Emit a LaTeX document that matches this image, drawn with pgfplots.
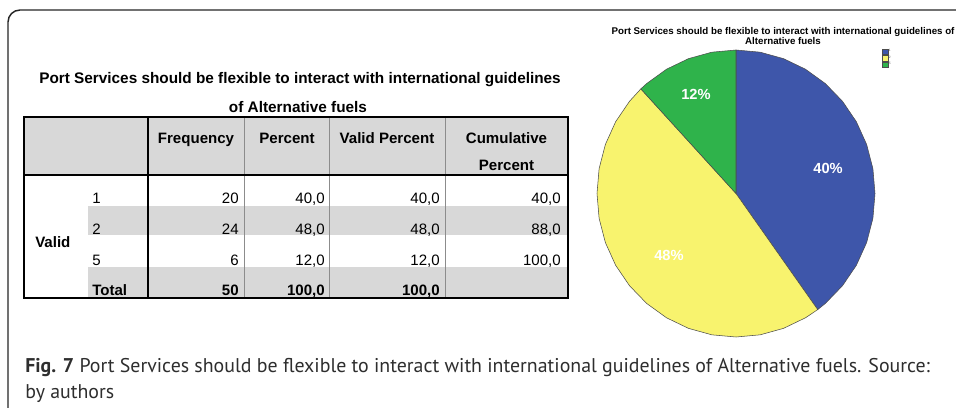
\documentclass[border=0pt]{standalone}
\usepackage{pgfplots}
\pgfplotsset{compat=1.18}
\usepackage{fontspec}
\setmainfont{Liberation Sans}
\newfontfamily\capfont{PT Sans}
\definecolor{spssblue}{HTML}{3E56AA}
\definecolor{spssyellow}{HTML}{F8F36E}
\definecolor{spssgreen}{HTML}{2FB34B}
\definecolor{hdrgray}{HTML}{D8D8D8}
\definecolor{rulegray}{HTML}{8C8C8C}
\begin{document}
\begin{tikzpicture}
\begin{scope}[x=0.75pt,y=-0.75pt]
\path[use as bounding box] (0,0) rectangle (956,407);
\fill[white] (0,0) rectangle (956,407);
% frame
\draw[line width=1.1pt, black!85, rounded corners=9pt] (8,415) -- (8,10) -- (965,10);
% table
\fill[hdrgray] (24,117) rectangle (568,175);
\fill[hdrgray] (88,206) rectangle (568,235);
\fill[hdrgray] (88,267) rectangle (568,298);
\draw[rulegray, line width=0.6pt] (244,117) -- (244,298) (329,117) -- (329,298) (445,117) -- (445,298);
\draw[black, line width=1.4pt] (24,117) rectangle (568,298);
\draw[black, line width=1.4pt] (148,117) -- (148,298) (24,175) -- (568,175);
\begin{scope}[every node/.style={inner sep=0pt, font=\fontsize{11.3}{13}\selectfont}]
\node[anchor=base, font=\fontsize{11.5}{13}\selectfont\bfseries] at (300,83.5) {Port Services should be flexible to interact with international guidelines};
\node[anchor=base, font=\fontsize{11.5}{13}\selectfont\bfseries] at (298,112) {of Alternative fuels};
\node[anchor=base, font=\fontsize{11.3}{13}\selectfont\bfseries] at (196,143) {Frequency};
\node[anchor=base, font=\fontsize{11.3}{13}\selectfont\bfseries] at (287,143) {Percent};
\node[anchor=base, font=\fontsize{11.3}{13}\selectfont\bfseries] at (387,143) {Valid Percent};
\node[anchor=base, font=\fontsize{11.3}{13}\selectfont\bfseries] at (506.5,143) {Cumulative};
\node[anchor=base, font=\fontsize{11.3}{13}\selectfont\bfseries] at (506.5,170.5) {Percent};
\node[anchor=base west, font=\fontsize{11.3}{13}\selectfont\bfseries] at (35,247) {Valid};
\node[anchor=base west] at (92,203) {1};
\node[anchor=base west] at (92,234) {2};
\node[anchor=base west] at (92,265) {5};
\node[anchor=base west, font=\fontsize{11.3}{13}\selectfont\bfseries] at (92,295) {Total};
% Frequency
\node[anchor=base east] at (239,203) {20};
\node[anchor=base east] at (239,234) {24};
\node[anchor=base east] at (239,265) {6};
\node[anchor=base east, font=\fontsize{11.3}{13}\selectfont\bfseries] at (239,295) {50};
% Percent
\node[anchor=base east] at (325,203) {40,0};
\node[anchor=base east] at (325,234) {48,0};
\node[anchor=base east] at (325,265) {12,0};
\node[anchor=base east, font=\fontsize{11.3}{13}\selectfont\bfseries] at (325,295) {100,0};
% Valid Percent
\node[anchor=base east] at (440,203) {40,0};
\node[anchor=base east] at (440,234) {48,0};
\node[anchor=base east] at (440,265) {12,0};
\node[anchor=base east, font=\fontsize{11.3}{13}\selectfont\bfseries] at (440,295) {100,0};
% Cumulative Percent
\node[anchor=base east] at (561,203) {40,0};
\node[anchor=base east] at (561,234) {88,0};
\node[anchor=base east] at (561,265) {100,0};
\end{scope}
% pie title
\node[anchor=base, inner sep=0pt, font=\fontsize{7.3}{8}\selectfont\bfseries] at (783,34.5) {Port Services should be flexible to interact with international guidelines of};
\node[anchor=base, inner sep=0pt, font=\fontsize{7.3}{8}\selectfont\bfseries] at (783,44.5) {Alternative fuels};
% caption
\node[anchor=base west, inner sep=0pt, text=black!82, font=\capfont\fontsize{14.9}{18}\selectfont] at (25,372) {\textbf{Fig. 7} Port Services should be flexible to interact with international guidelines of Alternative fuels. Source:};
\node[anchor=base west, inner sep=0pt, text=black!82, font=\capfont\fontsize{14.9}{18}\selectfont] at (25,398) {by authors};
\end{scope}
% pie: slices 40% (1), 48% (2), 12% (5), clockwise from 12 o'clock; (angle, radius)
\begin{axis}[at={(552pt,-145.125pt)}, anchor=center, scale only axis,
  width=208.5pt, height=215.25pt, xmin=-1, xmax=1, ymin=-1, ymax=1,
  hide axis, clip=false,
  legend style={at={(1.025,1.005)}, anchor=north west, draw=none, fill=none,
    inner sep=0pt, font=\fontsize{2.5}{3}\selectfont, text=black!60,
    row sep=0.4pt, nodes={inner sep=0.3pt}},
  legend cell align=left,
  legend image code/.code={\fill[#1] (0pt,-2.0pt) rectangle (4.2pt,2.0pt);}]
\addplot[data cs=polar, fill=spssblue, draw=black!70, line width=0.4pt] coordinates {
 (0,0) (90,1) (80,1) (70,1) (60,1) (50,1) (40,1) (30,1) (20,1) (10,1) (0,1)
 (-10,1) (-20,1) (-30,1) (-40,1) (-50,1) (-54,1) (0,0)};
\addlegendentry{1}
\addplot[data cs=polar, fill=spssyellow, draw=black!70, line width=0.4pt] coordinates {
 (0,0) (-54,1) (-60,1) (-70,1) (-80,1) (-90,1) (-100,1) (-110,1) (-120,1) (-130,1)
 (-140,1) (-150,1) (-160,1) (-170,1) (-180,1) (-190,1) (-200,1) (-210,1) (-220,1) (-226.8,1) (0,0)};
\addlegendentry{2}
\addplot[data cs=polar, fill=spssgreen, draw=black!70, line width=0.4pt] coordinates {
 (0,0) (133.2,1) (130,1) (120,1) (110,1) (100,1) (90,1) (0,0)};
\addlegendentry{5}
\node[text=white, font=\fontsize{11}{12}\selectfont\bfseries] at (axis cs:0.662,0.178) {40\%};
\node[text=white, font=\fontsize{11}{12}\selectfont\bfseries] at (axis cs:-0.482,-0.429) {48\%};
\node[text=white, font=\fontsize{11}{12}\selectfont\bfseries] at (axis cs:-0.288,0.693) {12\%};
\end{axis}
\end{tikzpicture}
\end{document}
